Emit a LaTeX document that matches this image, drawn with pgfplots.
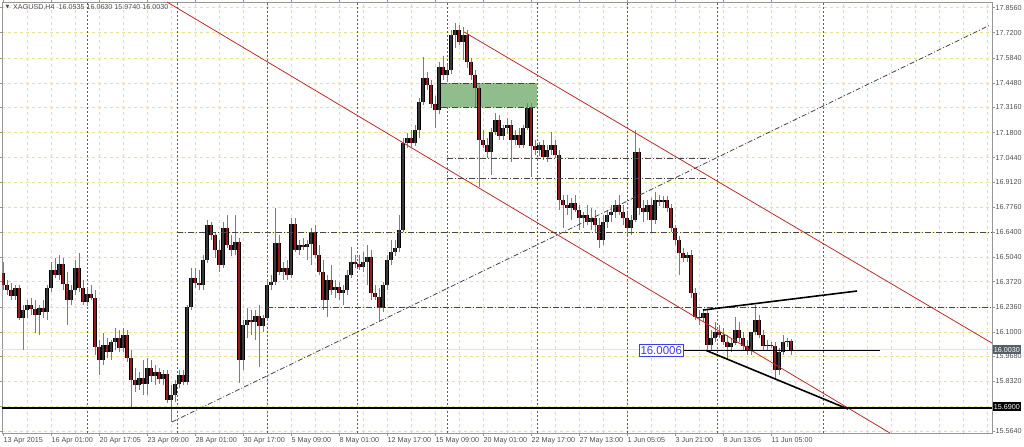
\documentclass[border=0pt]{standalone}
\usepackage{fontspec}
\setmainfont{Liberation Sans}
\newfontfamily\dejavu{DejaVu Sans}
\usepackage{pgfplots}
\usepackage{pgfplotstable}
\pgfplotsset{compat=1.18}
\definecolor{gridy}{RGB}{236,224,140}
\definecolor{wick}{RGB}{125,125,125}
\definecolor{bull}{RGB}{55,55,55}
\definecolor{bear}{RGB}{155,25,30}
\definecolor{chred}{RGB}{185,45,40}
\definecolor{dd}{RGB}{70,70,70}
\definecolor{sep}{RGB}{95,95,95}
\definecolor{frame}{RGB}{150,150,150}
\definecolor{txt}{RGB}{80,80,80}
\definecolor{cur}{RGB}{245,232,150}
\definecolor{boxg}{RGB}{85,95,105}
\definecolor{rectg}{RGB}{143,190,140}
\definecolor{lblue}{RGB}{60,60,235}
\newcommand{\tf}{\fontsize{7.2}{8}\selectfont}

\pgfplotstableread{
i o h l c
0 16.420 16.479 16.328 16.355
1 16.355 16.382 16.301 16.328
2 16.328 16.366 16.274 16.296
3 16.296 16.355 16.274 16.339
4 16.339 16.355 16.165 16.176
5 16.176 16.247 16.003 16.219
6 16.219 16.274 16.176 16.247
7 16.247 16.285 16.192 16.225
8 16.225 16.274 16.095 16.192
9 16.192 16.247 16.084 16.231
10 16.231 16.274 16.176 16.208
11 16.208 16.355 16.165 16.339
12 16.339 16.479 16.317 16.436
13 16.436 16.501 16.393 16.409
14 16.409 16.517 16.382 16.468
15 16.468 16.501 16.328 16.360
16 16.360 16.425 16.138 16.274
17 16.274 16.355 16.247 16.328
18 16.328 16.490 16.301 16.447
19 16.447 16.528 16.317 16.339
20 16.339 16.382 16.247 16.263
21 16.263 16.339 16.242 16.306
22 16.306 16.355 16.274 16.285
23 16.285 16.328 15.976 16.019
24 16.019 16.057 15.868 15.949
25 15.949 16.095 15.922 16.030
26 16.030 16.068 15.960 15.992
27 15.992 16.057 15.949 16.046
28 16.046 16.122 16.003 16.068
29 16.068 16.111 15.992 16.014
30 16.014 16.122 15.992 16.084
31 16.084 16.111 15.938 15.960
32 15.960 16.003 15.694 15.840
33 15.840 15.906 15.775 15.813
34 15.813 15.884 15.786 15.852
35 15.852 15.949 15.759 15.818
36 15.818 15.960 15.759 15.906
37 15.906 15.949 15.829 15.863
38 15.863 15.922 15.813 15.884
39 15.884 15.906 15.818 15.846
40 15.846 15.895 15.813 15.873
41 15.873 15.895 15.716 15.732
42 15.732 15.813 15.613 15.759
43 15.759 15.840 15.721 15.818
44 15.818 15.895 15.797 15.868
45 15.868 15.895 15.813 15.829
46 15.829 16.247 15.813 16.236
47 16.236 16.447 16.219 16.393
48 16.393 16.447 16.339 16.366
49 16.366 16.436 16.328 16.355
50 16.355 16.517 16.328 16.490
51 16.490 16.707 16.474 16.680
52 16.680 16.696 16.598 16.626
53 16.626 16.642 16.501 16.544
54 16.544 16.598 16.425 16.463
55 16.463 16.696 16.447 16.664
56 16.664 16.734 16.555 16.571
57 16.571 16.626 16.512 16.544
58 16.544 16.734 16.517 16.587
59 16.587 16.610 15.824 15.949
60 15.949 16.165 15.895 16.138
61 16.138 16.231 16.068 16.165
62 16.165 16.219 16.084 16.154
63 16.154 16.219 16.057 16.187
64 16.187 16.247 15.911 16.133
65 16.133 16.192 16.100 16.176
66 16.176 16.382 16.165 16.355
67 16.355 16.409 16.328 16.371
68 16.371 16.772 16.355 16.582
69 16.582 16.626 16.409 16.425
70 16.425 16.479 16.382 16.447
71 16.447 16.490 16.382 16.409
72 16.409 16.718 16.393 16.685
73 16.685 16.718 16.533 16.544
74 16.544 16.598 16.517 16.571
75 16.571 16.610 16.544 16.560
76 16.560 16.598 16.490 16.576
77 16.576 16.664 16.463 16.642
78 16.642 16.680 16.501 16.517
79 16.517 16.571 16.409 16.425
80 16.425 16.490 16.219 16.274
81 16.274 16.409 16.181 16.382
82 16.382 16.463 16.301 16.328
83 16.328 16.382 16.285 16.344
84 16.344 16.371 16.274 16.312
85 16.312 16.355 16.247 16.328
86 16.328 16.436 16.301 16.409
87 16.409 16.560 16.393 16.479
88 16.479 16.517 16.447 16.468
89 16.468 16.517 16.436 16.452
90 16.452 16.533 16.425 16.479
91 16.479 16.571 16.355 16.506
92 16.506 16.544 16.274 16.312
93 16.312 16.355 16.274 16.290
94 16.290 16.339 16.154 16.231
95 16.231 16.371 16.208 16.355
96 16.355 16.517 16.328 16.490
97 16.490 16.598 16.463 16.533
98 16.533 16.598 16.512 16.555
99 16.555 16.734 16.533 16.653
100 16.653 17.151 16.642 17.124
101 17.124 17.178 17.097 17.151
102 17.151 17.194 17.102 17.124
103 17.124 17.221 17.108 17.194
104 17.194 17.368 17.151 17.346
105 17.346 17.589 17.330 17.476
106 17.476 17.508 17.411 17.438
107 17.438 17.465 17.314 17.335
108 17.335 17.379 17.205 17.302
109 17.302 17.562 17.280 17.535
110 17.535 17.595 17.465 17.492
111 17.492 17.546 17.454 17.519
112 17.519 17.736 17.497 17.709
113 17.709 17.774 17.638 17.736
114 17.736 17.763 17.654 17.670
115 17.670 17.752 17.573 17.709
116 17.709 17.736 17.530 17.562
117 17.562 17.584 17.465 17.492
118 17.492 17.519 17.319 17.422
119 17.422 17.438 16.885 17.140
120 17.140 17.194 17.097 17.113
121 17.113 17.151 17.043 17.075
122 17.075 17.205 16.950 17.183
123 17.183 17.286 17.167 17.248
124 17.248 17.275 17.140 17.162
125 17.162 17.221 17.140 17.205
126 17.205 17.259 17.172 17.221
127 17.221 17.248 17.021 17.140
128 17.140 17.194 17.113 17.167
129 17.167 17.205 17.097 17.113
130 17.113 17.221 17.097 17.205
131 17.205 17.341 17.194 17.314
132 17.314 17.341 16.939 17.108
133 17.108 17.140 17.059 17.086
134 17.086 17.129 17.054 17.113
135 17.113 17.140 17.032 17.048
136 17.048 17.113 17.021 17.086
137 17.086 17.183 17.059 17.113
138 17.113 17.140 17.043 17.059
139 17.059 17.086 16.761 16.815
140 16.815 16.842 16.664 16.788
141 16.788 16.842 16.734 16.772
142 16.772 16.826 16.707 16.799
143 16.799 16.842 16.750 16.761
144 16.761 16.788 16.653 16.718
145 16.718 16.750 16.664 16.734
146 16.734 16.788 16.680 16.696
147 16.696 16.772 16.653 16.718
148 16.718 16.761 16.642 16.680
149 16.680 16.718 16.555 16.598
150 16.598 16.734 16.571 16.696
151 16.696 16.761 16.664 16.734
152 16.734 16.788 16.696 16.750
153 16.750 16.815 16.718 16.788
154 16.788 16.842 16.734 16.750
155 16.750 16.788 16.680 16.718
156 16.718 16.750 16.626 16.664
157 16.664 16.734 16.626 16.707
158 16.707 17.194 16.696 17.075
159 17.075 17.097 16.734 16.772
160 16.772 16.815 16.696 16.750
161 16.750 16.815 16.707 16.788
162 16.788 16.826 16.642 16.707
163 16.707 16.858 16.685 16.815
164 16.815 16.842 16.783 16.804
165 16.804 16.837 16.772 16.815
166 16.815 16.837 16.750 16.772
167 16.772 16.793 16.642 16.664
168 16.664 16.680 16.571 16.598
169 16.598 16.621 16.409 16.528
170 16.528 16.555 16.479 16.501
171 16.501 16.533 16.479 16.517
172 16.517 16.544 16.285 16.312
173 16.312 16.339 16.165 16.181
174 16.181 16.219 16.138 16.176
175 16.176 16.219 16.154 16.203
176 16.203 16.219 15.992 16.030
177 16.030 16.111 16.003 16.068
178 16.068 16.154 16.046 16.100
179 16.100 16.138 16.068 16.084
180 16.084 16.122 16.030 16.046
181 16.046 16.084 15.949 16.019
182 16.019 16.068 15.992 16.041
183 16.041 16.181 16.030 16.111
184 16.111 16.154 16.046 16.068
185 16.068 16.100 16.003 16.025
186 16.025 16.057 15.976 15.998
187 15.998 16.030 15.976 16.100
188 16.100 16.247 16.084 16.165
189 16.165 16.192 16.068 16.084
190 16.084 16.111 16.003 16.025
191 16.025 16.057 16.003 16.030
192 16.030 16.046 16.014 16.025
193 16.025 16.046 15.840 15.895
194 15.895 16.014 15.868 15.992
195 15.992 16.084 15.976 16.046
196 16.046 16.068 16.019 16.052
197 16.0535 16.0630 15.9740 16.0030
}\ohlc

\begin{document}
\begin{tikzpicture}[x=1bp,y=1bp]
\useasboundingbox (0,0) rectangle (1024,447);
\fill[white] (0,0) rectangle (1024,447);
\begin{axis}[
  at={(2bp,14bp)}, anchor=south west, scale only axis,
  width=990bp, height=431bp,
  xmin=-0.25, xmax=247.25, ymin=15.5532, ymax=17.8871,
  clip mode=individual,
  axis line style={draw=frame, line width=0.8bp},
  tick align=outside, major tick length=3bp,
  tick style={draw=frame, line width=0.7bp},
  xtick={0,12,...,192},
  xticklabels={13 Apr 2015,16 Apr 01:00,20 Apr 17:05,23 Apr 09:00,28 Apr 01:00,30 Apr 17:00,5 May 09:00,8 May 01:00,12 May 17:00,15 May 09:00,20 May 01:00,22 May 17:00,27 May 13:00,1 Jun 05:05,3 Jun 21:00,8 Jun 13:05,11 Jun 05:00},
  xticklabel style={font=\tf, text=txt, anchor=north west, inner sep=0pt, xshift=0.5bp, yshift=-1bp},
  minor xtick={6,12,...,246},
  minor tick length=0pt,
  xminorgrids=true, xmajorgrids=false,
  ytick={15.564,15.696,15.832,15.968,16.100,16.236,16.372,16.504,16.640,16.776,16.912,17.044,17.180,17.316,17.448,17.584,17.720,17.856},
  yticklabels={15.5640,{},15.8320,15.9680,16.1000,16.2360,16.3720,16.5040,16.6400,16.7760,16.9120,17.0440,17.1800,17.3160,17.4480,17.5840,17.7200,17.8560},
  yticklabel pos=right,
  yticklabel style={font=\tf, text=txt, anchor=west, inner sep=0pt, xshift=0.5bp},
  ymajorgrids=true,
  major grid style={draw=gridy, line width=0.7bp, dash pattern=on 3bp off 3bp},
  minor grid style={draw=gridy, line width=0.7bp, dash pattern=on 3bp off 3bp},
  /pgf/number format/assume math mode=true,
]
% period separators
\pgfplotsinvokeforeach{21,43.5,66,88.5,111,133.5,156,178.5,205}{
  \addplot[sep, line width=0.8bp, dash pattern=on 2bp off 2bp, forget plot] coordinates {(#1,15.5532) (#1,17.8871)};
}
% green zone
\addplot[fill=rectg, draw=none, forget plot] coordinates {(109.5,17.316) (133.5,17.316) (133.5,17.448) (109.5,17.448)} \closedcycle;
\addplot[dd, line width=0.8bp, dash pattern=on 6bp off 2bp on 1bp off 2bp, forget plot] coordinates {(109.5,17.448) (133.5,17.448)};
\addplot[dd, line width=0.8bp, dash pattern=on 6bp off 2bp on 1bp off 2bp, forget plot] coordinates {(109.5,17.316) (133.5,17.316)};
% current price line
\addplot[cur, line width=0.9bp, forget plot] coordinates {(-0.25,16.003) (247.25,16.003)};
% wicks
\addplot[draw=none, mark=none, forget plot,
  error bars/.cd, y dir=plus, y explicit, error mark=none,
  error bar style={draw=wick, line width=1bp, solid}]
  table[x=i, y=l, y error expr=\thisrow{h}-\thisrow{l}] {\ohlc};
% bull bodies
\addplot[draw=none, mark=none, forget plot,
  restrict expr to domain={\thisrow{c}-\thisrow{o}}{0:5},
  error bars/.cd, y dir=plus, y explicit, error mark=none,
  error bar style={draw=black, line width=3.2bp, solid}]
  table[x=i, y=o, y error expr=\thisrow{c}-\thisrow{o}] {\ohlc};
\addplot[draw=none, mark=none, forget plot,
  restrict expr to domain={\thisrow{c}-\thisrow{o}}{0:5},
  error bars/.cd, y dir=plus, y explicit, error mark=none,
  error bar style={draw=bull, line width=1.3bp, solid}]
  table[x=i, y=o, y error expr=\thisrow{c}-\thisrow{o}] {\ohlc};
% bear bodies
\addplot[draw=none, mark=none, forget plot,
  restrict expr to domain={\thisrow{o}-\thisrow{c}}{0.00001:5},
  error bars/.cd, y dir=plus, y explicit, error mark=none,
  error bar style={draw=black, line width=3.2bp, solid}]
  table[x=i, y=c, y error expr=\thisrow{o}-\thisrow{c}] {\ohlc};
\addplot[draw=none, mark=none, forget plot,
  restrict expr to domain={\thisrow{o}-\thisrow{c}}{0.00001:5},
  error bars/.cd, y dir=plus, y explicit, error mark=none,
  error bar style={draw=bear, line width=1.5bp, solid}]
  table[x=i, y=c, y error expr=\thisrow{o}-\thisrow{c}] {\ohlc};
% channel lines
\addplot[chred, line width=0.8bp, forget plot] coordinates {(41,17.887) (221.75,15.553)};
\addplot[chred, line width=0.8bp, forget plot] coordinates {(115.25,17.725) (247.25,16.040)};
% dash-dot trend line
\addplot[dd, line width=0.8bp, dash pattern=on 5bp off 2bp on 1bp off 2bp, forget plot] coordinates {(42.25,15.613) (246.75,17.762)};
% horizontal levels
\addplot[dd, line width=0.9bp, dash pattern=on 6bp off 2bp on 1bp off 2bp, forget plot] coordinates {(43.5,16.640) (247.25,16.640)};
\addplot[dd, line width=0.9bp, dash pattern=on 6bp off 2bp on 1bp off 2bp, forget plot] coordinates {(66,16.234) (247.25,16.234)};
\addplot[dd, line width=0.8bp, dash pattern=on 6bp off 2bp on 1bp off 2bp, forget plot] coordinates {(111,17.042) (176.75,17.042)};
\addplot[dd, line width=0.8bp, dash pattern=on 6bp off 2bp on 1bp off 2bp, forget plot] coordinates {(111,16.934) (176,16.934)};
% support line
\addplot[black, line width=1.8bp, forget plot] coordinates {(-0.25,15.690) (247.25,15.690)};
% triangle
\addplot[black, line width=1.6bp, forget plot] coordinates {(175,16.219) (213.5,16.322)};
\addplot[black, line width=1.6bp, forget plot] coordinates {(175.75,16.0006) (211.25,15.683)};
\addplot[black, line width=1.6bp, forget plot] coordinates {(170.25,16.0006) (219.25,16.0006)};
\node[draw=lblue, fill=white, text=lblue, line width=0.8bp, inner xsep=1.5bp, inner ysep=1.5bp, anchor=east,
  font=\fontsize{11.5}{12}\selectfont] at (axis cs:170.2,16.0006) {16.0006};
\end{axis}
% price boxes on the scale
\node[fill=boxg, text=white, inner xsep=1.2bp, inner ysep=0pt, minimum height=9bp, anchor=west, font=\tf] at (992.5,97) {16.0030};
\node[fill=black, text=white, inner xsep=1.2bp, inner ysep=0pt, minimum height=9bp, anchor=west, font=\tf] at (992.5,40) {15.6900};
% title
\node[anchor=base west, inner sep=0pt, text=txt, font=\fontsize{5}{6}\dejavu] at (5.5,438) {▼};
\node[anchor=base west, inner sep=0pt, text=txt, font=\tf] at (13,437.5) {XAGUSD,H4\ \ 16.0535 16.0630 15.9740 16.0030};
\end{tikzpicture}
\end{document}
